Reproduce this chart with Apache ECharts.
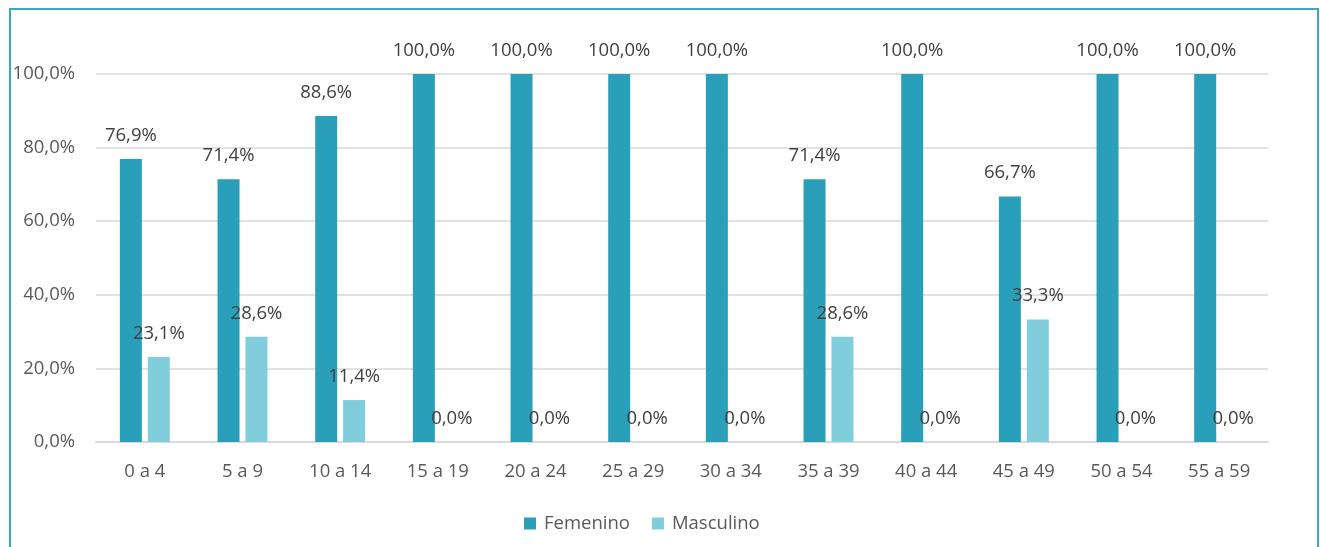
<!DOCTYPE html>
<html><head><meta charset="utf-8">
<script src="https://cdn.jsdelivr.net/npm/echarts@6/dist/echarts.min.js"></script>
<style>
html,body{margin:0;padding:0;background:#fff;overflow:hidden;}
#frame{position:absolute;left:9px;top:8px;width:1310px;height:560px;border:2px solid #3ba7c0;box-sizing:border-box;}
#chart{position:absolute;left:0;top:0;width:1320px;height:547px;}
</style></head>
<body>
<div id="frame"></div>
<div id="chart"></div>
<script>
const categories = ['0 a 4','5 a 9','10 a 14','15 a 19','20 a 24','25 a 29','30 a 34','35 a 39','40 a 44','45 a 49','50 a 54','55 a 59'];
const femenino = [76.9,71.4,88.6,100,100,100,100,71.4,100,66.7,100,100];
const masculino = [23.1,28.6,11.4,0,0,0,0,28.6,0,33.3,0,0];
const yTicks = {min:0,max:100,interval:20};

const fmt = v => v.toFixed(1).replace('.',',') + '%';
const font = 'Open Sans';
const fs = 18.5;
const chart = echarts.init(document.getElementById('chart'));
const labelCfg = {show:true,position:'top',distance:14,color:'#404040',fontSize:fs,fontFamily:font,formatter:p=>fmt(p.value)};
chart.setOption({
  animation:false,
  grid:{left:96,right:52,top:74,bottom:105,containLabel:false},
  legend:{bottom:9,left:519,itemWidth:12,itemHeight:12,itemGap:22,icon:'rect',
    textStyle:{color:'#595959',fontSize:fs,fontFamily:font,padding:[0,0,0,3]},data:['Femenino','Masculino']},
  xAxis:{type:'category',data:categories,axisLine:{lineStyle:{color:'#d9d9d9',width:2}},axisTick:{show:false},
    axisLabel:{color:'#595959',fontSize:fs,fontFamily:font,margin:20}},
  yAxis:{type:'value',min:yTicks.min,max:yTicks.max,interval:yTicks.interval,
    axisLabel:{color:'#595959',fontSize:fs,fontFamily:font,margin:21,formatter:v=>fmt(v)},
    splitLine:{lineStyle:{color:'#d9d9d9',width:1.5}},axisLine:{show:false},axisTick:{show:false}},
  series:[
    {name:'Femenino',type:'bar',data:femenino,barWidth:22,barGap:'27%',itemStyle:{color:'#2a9fba'},label:labelCfg},
    {name:'Masculino',type:'bar',data:masculino,barWidth:22,itemStyle:{color:'#80cddc'},label:labelCfg}
  ]
});
</script>
</body></html>
